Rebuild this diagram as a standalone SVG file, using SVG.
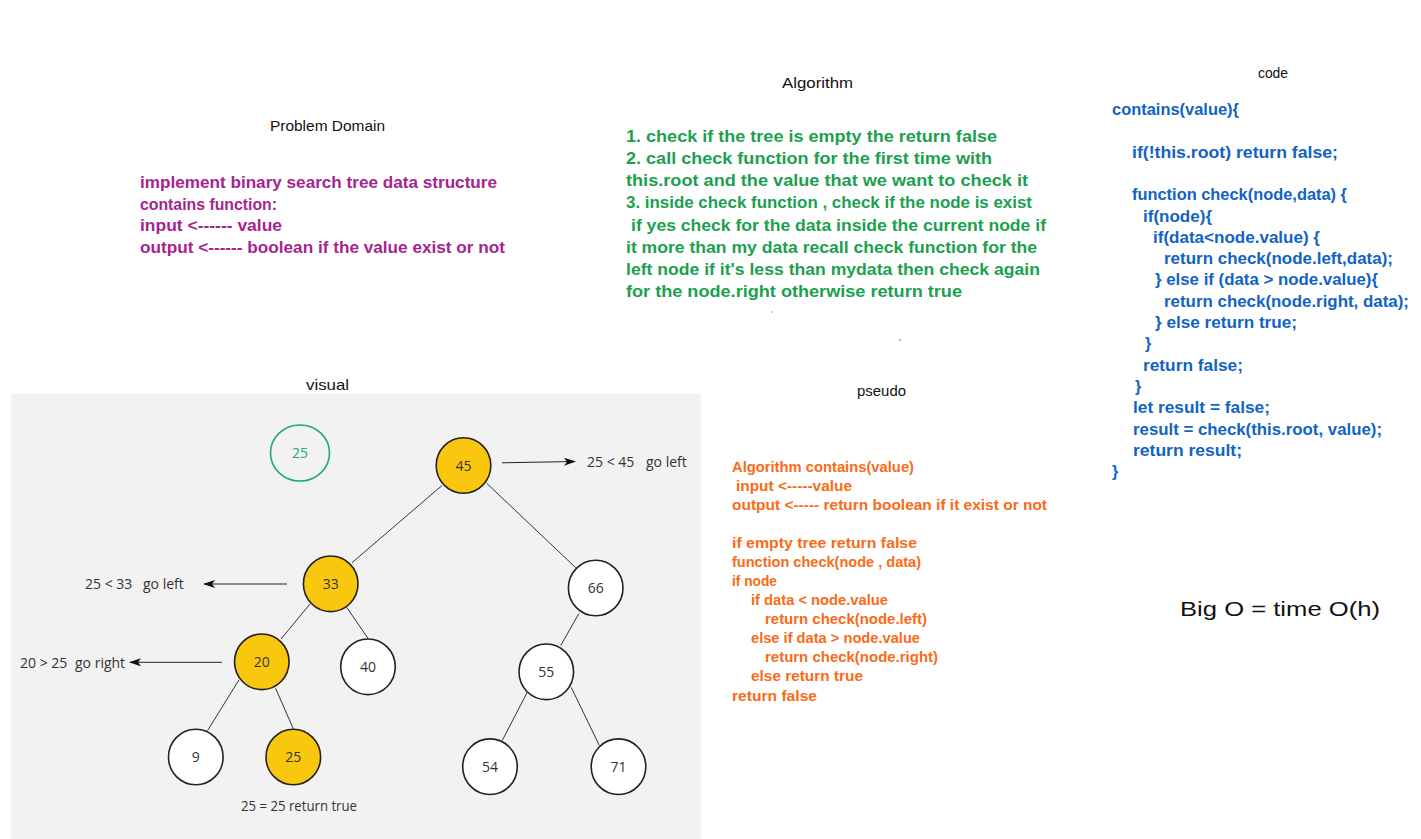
<svg xmlns="http://www.w3.org/2000/svg" width="1421" height="839" viewBox="0 0 1421 839">
<style>
.title{font-family:"Liberation Sans","DejaVu Sans",sans-serif;font-size:15px;fill:#111}
.hand{font-family:"Liberation Sans","DejaVu Sans",sans-serif;font-size:16px;font-weight:bold}
.pd{fill:#a6248f}
.alg{fill:#1ba04f}
.code{fill:#1163c4}
.ps{fill:#f96b17;font-size:14px}
.lbl{font-family:"Open Sans","Liberation Sans",sans-serif;font-size:14px;fill:#333}
.num{font-family:"Open Sans","Liberation Sans",sans-serif;font-size:14px;fill:#333;text-anchor:middle}
.n{fill:#ffffff;stroke:#222;stroke-width:1.6}
.y{fill:#f9c80e;stroke:#222;stroke-width:1.6}
.edge{stroke:#333;stroke-width:1;fill:none}
.arr{stroke:#222;stroke-width:1;fill:none;marker-end:url(#ah)}
</style>
<defs>
<marker id="ah" markerWidth="12" markerHeight="8" refX="11" refY="4" orient="auto" markerUnits="userSpaceOnUse">
<path d="M0,0 L12,4 L0,8 L3,4 z" fill="#111"/>
</marker>
</defs>
<rect width="1421" height="839" fill="#ffffff"/>

<!-- Problem Domain -->
<g id="problem-domain">
<text class="title" x="270" y="131" textLength="115" lengthAdjust="spacingAndGlyphs">Problem Domain</text>
<text class="hand pd" x="140" y="188" textLength="357" lengthAdjust="spacingAndGlyphs">implement binary search tree data structure</text>
<text class="hand pd" x="140" y="209.5" textLength="137" lengthAdjust="spacingAndGlyphs">contains function:</text>
<text class="hand pd" x="140" y="231" textLength="142" lengthAdjust="spacingAndGlyphs">input &lt;------ value</text>
<text class="hand pd" x="140" y="252.5" textLength="365" lengthAdjust="spacingAndGlyphs">output &lt;------ boolean if the value exist or not</text>
</g>

<!-- Algorithm -->
<g id="algorithm">
<text class="title" x="782" y="88" textLength="71" lengthAdjust="spacingAndGlyphs">Algorithm</text>
<text class="hand alg" x="626" y="142" textLength="371" lengthAdjust="spacingAndGlyphs">1. check if the tree is empty the return false</text>
<text class="hand alg" x="626" y="164" textLength="366" lengthAdjust="spacingAndGlyphs">2. call check function for the first time with</text>
<text class="hand alg" x="626" y="186" textLength="402" lengthAdjust="spacingAndGlyphs">this.root and the value that we want to check it</text>
<text class="hand alg" x="626" y="208" textLength="406" lengthAdjust="spacingAndGlyphs">3. inside check function , check if the node is exist</text>
<text class="hand alg" x="631" y="231" textLength="415" lengthAdjust="spacingAndGlyphs">if yes check for the data inside the current node if</text>
<text class="hand alg" x="626" y="253" textLength="411" lengthAdjust="spacingAndGlyphs">it more than my data recall check function for the</text>
<text class="hand alg" x="626" y="275" textLength="414" lengthAdjust="spacingAndGlyphs">left node if it's less than mydata then check again</text>
<text class="hand alg" x="626" y="297" textLength="336" lengthAdjust="spacingAndGlyphs">for the node.right otherwise return true</text>
<circle cx="772" cy="312" r="1" fill="#9cc"/>
<circle cx="900" cy="340" r="1" fill="#999"/>
</g>

<!-- Code -->
<g id="code">
<text class="title" x="1258" y="78" textLength="30" lengthAdjust="spacingAndGlyphs">code</text>
<text class="hand code" x="1112" y="115" textLength="127" lengthAdjust="spacingAndGlyphs">contains(value){</text>
<text class="hand code" x="1132" y="157.6" textLength="206" lengthAdjust="spacingAndGlyphs">if(!this.root) return false;</text>
<text class="hand code" x="1132" y="200.2" textLength="215" lengthAdjust="spacingAndGlyphs">function check(node,data) {</text>
<text class="hand code" x="1143" y="221.5" textLength="69" lengthAdjust="spacingAndGlyphs">if(node){</text>
<text class="hand code" x="1153" y="242.8" textLength="167" lengthAdjust="spacingAndGlyphs">if(data&lt;node.value) {</text>
<text class="hand code" x="1164" y="264.1" textLength="229" lengthAdjust="spacingAndGlyphs">return check(node.left,data);</text>
<text class="hand code" x="1155" y="285.4" textLength="223" lengthAdjust="spacingAndGlyphs">} else if (data &gt; node.value){</text>
<text class="hand code" x="1164" y="306.7" textLength="245" lengthAdjust="spacingAndGlyphs">return check(node.right, data);</text>
<text class="hand code" x="1155" y="328" textLength="142" lengthAdjust="spacingAndGlyphs">} else return true;</text>
<text class="hand code" x="1145" y="349.3">}</text>
<text class="hand code" x="1143" y="370.6" textLength="100" lengthAdjust="spacingAndGlyphs">return false;</text>
<text class="hand code" x="1135" y="391.9">}</text>
<text class="hand code" x="1133" y="413.2" textLength="137" lengthAdjust="spacingAndGlyphs">let result = false;</text>
<text class="hand code" x="1133" y="434.5" textLength="249" lengthAdjust="spacingAndGlyphs">result = check(this.root, value);</text>
<text class="hand code" x="1133" y="455.8" textLength="109" lengthAdjust="spacingAndGlyphs">return result;</text>
<text class="hand code" x="1112" y="477.1">}</text>
</g>

<!-- Pseudo -->
<g id="pseudo">
<text class="title" x="857" y="396" textLength="49" lengthAdjust="spacingAndGlyphs">pseudo</text>
<text class="hand ps" x="732" y="471.5" textLength="182" lengthAdjust="spacingAndGlyphs">Algorithm contains(value)</text>
<text class="hand ps" x="736" y="490.6" textLength="116" lengthAdjust="spacingAndGlyphs">input &lt;-----value</text>
<text class="hand ps" x="732" y="509.7" textLength="315" lengthAdjust="spacingAndGlyphs">output &lt;----- return boolean if it exist or not</text>
<text class="hand ps" x="732" y="547.8" textLength="185" lengthAdjust="spacingAndGlyphs">if empty tree return false</text>
<text class="hand ps" x="732" y="566.9" textLength="189" lengthAdjust="spacingAndGlyphs">function check(node , data)</text>
<text class="hand ps" x="732" y="586" textLength="45" lengthAdjust="spacingAndGlyphs">if node</text>
<text class="hand ps" x="751" y="605.1" textLength="137" lengthAdjust="spacingAndGlyphs">if data &lt; node.value</text>
<text class="hand ps" x="765" y="624.2" textLength="162" lengthAdjust="spacingAndGlyphs">return check(node.left)</text>
<text class="hand ps" x="751" y="643.2" textLength="169" lengthAdjust="spacingAndGlyphs">else if data &gt; node.value</text>
<text class="hand ps" x="765" y="662.3" textLength="173" lengthAdjust="spacingAndGlyphs">return check(node.right)</text>
<text class="hand ps" x="751" y="681.4" textLength="112" lengthAdjust="spacingAndGlyphs">else return true</text>
<text class="hand ps" x="732" y="700.5" textLength="85" lengthAdjust="spacingAndGlyphs">return false</text>
</g>

<!-- Big O -->
<g id="big-o">
<text class="title" x="1180" y="616" style="font-size:21px" textLength="200" lengthAdjust="spacingAndGlyphs">Big O = time O(h)</text>
</g>

<!-- Visual -->
<text class="title" x="306" y="390" textLength="43" lengthAdjust="spacingAndGlyphs">visual</text>
<rect id="visual-panel" x="11" y="394" width="690" height="445" fill="#f2f2f2"/>

<g id="connectors">
<line class="edge" x1="442" y1="485.5" x2="352" y2="562.7"/>
<line class="edge" x1="486.4" y1="483" x2="575.7" y2="567.7"/>
<line class="edge" x1="310" y1="604" x2="281" y2="639"/>
<line class="edge" x1="346.8" y1="607.5" x2="368" y2="638.4"/>
<line class="edge" x1="578.9" y1="613.5" x2="560.7" y2="645.7"/>
<line class="edge" x1="238.9" y1="680" x2="207.6" y2="730.5"/>
<line class="edge" x1="275.6" y1="688.3" x2="293.3" y2="728.8"/>
<line class="edge" x1="527.2" y1="692.3" x2="502.3" y2="740.4"/>
<line class="edge" x1="571.2" y1="687.3" x2="599.3" y2="745.4"/>
<line class="arr" x1="502" y1="462.8" x2="575" y2="461.5"/>
<line class="arr" x1="287" y1="584" x2="204" y2="584"/>
<line class="arr" x1="222" y1="662.3" x2="130" y2="662.3"/>
</g>

<g id="node-search">
<ellipse cx="300" cy="453" rx="29.5" ry="28" fill="none" stroke="#21a58a" stroke-width="1.6"/>
<text class="num" x="300" y="458" style="fill:#21a58a">25</text>
</g>
<g id="node-45"><ellipse class="y" cx="463.5" cy="465.5" rx="27.3" ry="27.8"/><text class="num" x="463.5" y="470.5">45</text></g>
<g id="node-33"><ellipse class="y" cx="330.7" cy="583.8" rx="27.3" ry="27.8"/><text class="num" x="330.7" y="588.8">33</text></g>
<g id="node-66"><ellipse class="n" cx="595.7" cy="588" rx="27.3" ry="27.8"/><text class="num" x="595.7" y="593">66</text></g>
<g id="node-20"><ellipse class="y" cx="261.8" cy="661.8" rx="27.3" ry="27.8"/><text class="num" x="261.8" y="666.8">20</text></g>
<g id="node-40"><ellipse class="n" cx="368" cy="666.8" rx="27.3" ry="27.8"/><text class="num" x="368" y="671.8">40</text></g>
<g id="node-55"><ellipse class="n" cx="546.3" cy="671.8" rx="27.3" ry="27.8"/><text class="num" x="546.3" y="676.8">55</text></g>
<g id="node-9"><ellipse class="n" cx="195.8" cy="757" rx="27.3" ry="27.8"/><text class="num" x="195.8" y="762">9</text></g>
<g id="node-25"><ellipse class="y" cx="293.3" cy="757" rx="27.3" ry="27.8"/><text class="num" x="293.3" y="762">25</text></g>
<g id="node-54"><ellipse class="n" cx="490" cy="766.7" rx="27.3" ry="27.8"/><text class="num" x="490" y="771.7">54</text></g>
<g id="node-71"><ellipse class="n" cx="618.5" cy="766.7" rx="27.3" ry="27.8"/><text class="num" x="618.5" y="771.7">71</text></g>

<g id="labels">
<text class="lbl" x="587" y="467">25 &lt; 45</text>
<text class="lbl" x="646" y="467">go left</text>
<text class="lbl" x="85" y="589">25 &lt; 33</text>
<text class="lbl" x="143" y="589">go left</text>
<text class="lbl" x="20" y="668">20 &gt; 25</text>
<text class="lbl" x="75" y="668">go right</text>
<text class="lbl" x="241" y="811" textLength="116" lengthAdjust="spacingAndGlyphs">25 = 25 return true</text>
</g>
</svg>
